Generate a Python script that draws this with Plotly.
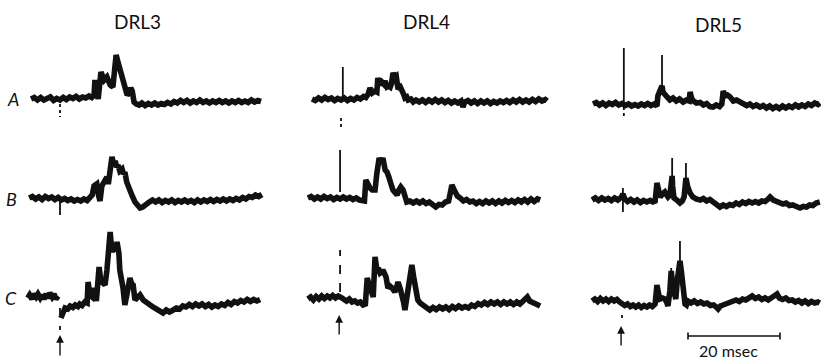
import plotly.graph_objects as go

# ---------------- data: (time ms after stimulus, amplitude, arbitrary units) ----------------
DRL3_A = [(-6.3,0),(-5.6,1.5),(-4.9,-1),(-4.2,1.5),(-3.5,-1),(-2.8,1),(-2.1,2),(-1.4,-1.5),(-0.7,0.5),(0.0,-1),
          (0.7,1.5),(1.4,-0.5),(2.1,2),(2.8,0.5),(3.5,2.5),(4.2,0),(4.9,2),(5.6,1),(6.3,3),(6.9,1.5),(7.4,4),
          (7.6,19),(8.0,5),(8.3,0),(8.9,27),(9.3,20),(9.6,19),(10.2,22),(10.6,15),(10.9,14),(11.5,12),(11.9,25),
          (12.2,44),(12.6,37),(13.0,30),(13.3,27),(13.6,18),(13.9,14),(14.3,8),(14.6,4),(15.0,6),(15.4,11),(15.7,8),
          (16.1,-3),(16.6,-5),(17.2,-6),(17.8,-4),(18.5,-6.5),(19.2,-4.5),(19.9,-6),(20.6,-4),(21.3,-6),(22.0,-4.5),
          (22.7,-5.5),(23.4,-3.5),(24.1,-5),(24.8,-2.5),(25.5,-4),(26.2,-1.5),(26.9,-3.5),(27.6,-1.5),(28.3,-4),
          (29.0,-2),(29.7,-3.5),(30.4,-1),(31.1,-3.5),(31.8,-2),(32.5,-4),(33.2,-2),(33.9,-3.5),(34.6,-1.5),(35.3,-3.5),
          (36.0,-2),(36.7,-4),(37.4,-2),(38.1,-3.5),(38.8,-1.5),(39.5,-3.5),(40.2,-2),(40.9,-3.5),(41.6,-1),(42.3,-3),
          (43.0,-1.5),(43.7,-2.5)]

DRL3_B = [(-6.7,0),(-6.0,1.5),(-5.3,-1),(-4.6,1),(-3.9,-1.5),(-3.2,1.5),(-2.5,-0.5),(-1.8,1),(-1.1,-1.5),(-0.4,0.5),
          (0.3,-2),(1.0,-0.5),(1.7,-2.5),(2.4,-1),(3.1,-3),(3.8,-1.5),(4.5,-3),(5.2,-1),(5.9,-2.5),(6.6,0),(7.0,3),
          (7.4,12),(8.0,14),(8.4,2),(8.7,-3),(9.1,12),(9.5,15),(9.8,19),(10.2,21),(10.5,14),(10.9,30),(11.3,41),
          (11.7,33),(12.0,37),(12.3,31),(12.6,33),(13.0,27),(13.5,29),(13.8,24),(14.1,26),(14.5,16),(14.8,12),
          (15.2,6),(15.7,2),(16.3,-4),(16.9,-8),(17.4,-10),(18.0,-9),(18.7,-6),(19.4,-4),(20.1,-2),(20.8,-4),
          (21.5,-2),(22.2,-4.5),(22.9,-2.5),(23.6,-4),(24.3,-2),(25.0,-4.5),(25.7,-2.5),(26.4,-4),(27.1,-2),
          (27.8,-4),(28.5,-2.5),(29.2,-4.5),(29.9,-2),(30.6,-4),(31.3,-2),(32.0,-3.5),(32.7,-1.5),(33.4,-3.5),
          (34.1,-1.5),(34.8,-3),(35.5,-1),(36.2,-3),(36.9,-1),(37.6,-2.5),(38.3,-0.5),(39.0,-2),(39.7,0.5),
          (40.4,-1),(41.1,1.5),(41.8,0.5),(42.5,3),(43.2,1.5),(43.9,3.5)]

DRL3_C_PRE = [(-7.0,0),(-6.6,3),(-6.1,-1),(-5.7,4),(-5.2,1),(-4.8,4),(-4.3,0),(-3.9,3),(-3.5,-1),(-3.0,4),
              (-2.6,0),(-2.2,5),(-1.7,1),(-1.3,4),(-0.9,-1),(-0.4,2)]
DRL3_C = [(0.2,-20),(0.6,-14),(1.1,-10),(1.7,-11),(2.2,-8),(2.8,-9.5),(3.3,-7),(3.9,-8.5),(4.3,-6),(4.8,-7.5),
          (5.4,-4),(5.9,-5),(6.1,16),(6.5,3),(7.0,1),(7.4,10),(7.9,-3),(8.5,31),(8.9,16),(9.4,15),(9.8,13),
          (10.2,28),(10.9,66),(11.3,46),(11.7,51),(12.1,47),(12.4,56),(12.8,45),(13.0,28),(13.7,10),(14.1,-7),
          (14.6,5),(15.2,20),(15.6,14),(15.9,13),(16.3,-2),(16.8,1),(17.4,3),(18.1,-2),(18.9,-4),(19.6,-7),
          (20.2,-9),(20.9,-11),(21.6,-13),(22.4,-15),(23.1,-12),(23.8,-14),(24.6,-12),(25.3,-10),(26.0,-11),
          (26.7,-8),(27.4,-9),(28.1,-6.5),(28.8,-8.5),(29.5,-6),(30.2,-8),(30.9,-6),(31.6,-8.5),(32.3,-6.5),
          (33.0,-9),(33.7,-7),(34.4,-8.5),(35.1,-6),(35.8,-7.5),(36.5,-4.5),(37.2,-6.5),(37.9,-3.5),(38.6,-5),
          (39.3,-2.5),(40.0,-4),(40.7,-1.5),(41.4,-3.5),(42.1,-1.5),(42.8,-3),(43.5,-1.5)]

DRL4_A = [(-6.3,0),(-5.6,-1.5),(-4.9,1),(-4.2,-1),(-3.5,1.5),(-2.8,-0.5),(-2.1,1),(-1.4,-1.5),(-0.7,0.5),(0.0,-1),
          (0.7,1),(1.4,-1.5),(2.1,0.5),(2.8,-1),(3.5,1.5),(4.2,0),(4.9,2.5),(5.4,1.5),(5.9,5),(6.3,11),(6.8,6),
          (7.4,8),(7.8,7),(8.0,21),(8.5,14),(8.9,17),(9.3,15),(9.6,18),(10.0,12),(10.4,13),(10.7,12),(11.0,16),
          (11.3,26),(11.7,22),(12.0,23),(12.4,10),(12.9,12),(13.3,9),(13.6,5),(13.9,1),(14.3,2),(14.6,-1),(15.2,0),
          (15.7,-3),(16.3,-1),(17.0,-3),(17.7,-1),(18.4,-3.5),(19.1,-1),(19.8,-3),(20.5,-0.5),(21.2,-3),(21.9,-1),
          (22.6,-3.5),(23.3,-1.5),(24.0,-4),(24.7,-2),(25.4,-4),(26.1,-2),(26.5,-8),(26.9,-3),(27.6,-1.5),(28.3,-4),
          (29.0,-2),(29.7,-4.5),(30.4,-2),(31.1,-4),(31.8,-2),(32.5,-4.5),(33.2,-2.5),(33.9,-4),(34.6,-2),(35.3,-3.5),
          (36.0,-1.5),(36.7,-3.5),(37.4,-1),(38.1,-3),(38.8,-0.5),(39.5,-3),(40.2,-1),(40.9,-3),(41.6,-0.5),
          (42.3,-2.5),(43.0,0),(43.7,-2),(44.4,-0.5),(44.8,-2)]

DRL4_B = [(-7.2,0),(-6.5,1.5),(-5.8,-1),(-5.1,1),(-4.4,-1),(-3.7,1.5),(-3.0,-0.5),(-2.3,1),(-1.6,-1.5),(-0.9,0.5),
          (-0.2,-1),(0.5,1),(1.2,-1),(1.9,0.5),(2.6,-1.5),(3.3,0),(4.0,-2),(4.7,-3),(5.1,-3),(5.4,18),(5.9,13),
          (6.3,10),(6.8,8),(7.4,8),(7.8,25),(8.3,40),(8.7,35),(9.1,40),(9.6,28),(10.0,26),(10.4,21),(10.7,18),
          (11.0,12),(11.3,8),(11.8,4),(12.2,3),(12.6,8),(13.0,11),(13.5,8),(13.9,0),(14.3,-4),(15.0,-3),(15.7,-5),
          (16.4,-3),(17.1,-5),(17.8,-3),(18.5,-5.5),(19.2,-4),(19.9,-7),(20.6,-9),(21.3,-6.5),(22.0,-7),(22.7,-4),
          (23.4,-3),(23.8,6),(24.1,13),(24.5,9),(24.8,6),(25.3,2),(25.9,0),(26.6,-3),(27.3,-1.5),(28.0,-4),(28.7,-3),
          (29.4,-5.5),(30.1,-3.5),(30.8,-5.5),(31.5,-3),(32.2,-5),(32.9,-3),(33.6,-5.5),(34.3,-3),(35.0,-5),
          (35.7,-2.5),(36.4,-4.5),(37.1,-2.5),(37.8,-4.5),(38.5,-2),(39.2,-4),(39.9,-1.5),(40.6,-4),(41.3,-1),
          (42.0,-3.5),(42.7,-1),(43.3,-2)]

DRL4_C = [(-7.2,0),(-6.6,2),(-6.0,-1),(-5.4,2.5),(-4.8,0),(-4.2,3),(-3.6,0.5),(-3.0,3),(-2.4,1),(-1.8,3.5),
          (-1.2,1),(-0.6,3),(0.0,1.5),(0.6,0),(1.2,-2),(1.8,0),(2.4,-3),(3.0,-2),(3.6,-4),(4.2,-3),(4.8,-6),
          (5.3,-5),(5.7,21),(6.0,16),(6.3,11),(6.7,6),(7.0,2),(7.4,42),(7.8,29),(8.1,31),(8.5,26),(8.8,27),
          (9.1,29),(9.5,25),(9.8,22),(10.2,11),(10.6,13),(11.1,11),(11.4,9),(11.7,7),(12.1,12),(12.4,17),(12.9,10),
          (13.3,4),(13.6,-3),(13.9,-11),(14.3,2),(14.6,11),(15.0,24),(15.4,34),(15.8,22),(16.1,12),(16.4,4),
          (16.7,-1),(17.2,-4),(17.8,-6),(18.5,-8),(19.3,-11),(20.0,-8.5),(20.7,-10.5),(21.4,-8),(22.1,-10),
          (22.8,-8),(23.5,-10.5),(24.2,-7.5),(24.9,-9.5),(25.6,-7),(26.3,-9),(27.0,-7.5),(27.7,-9),(28.4,-6),
          (29.1,-7.5),(29.8,-4.5),(30.5,-6),(31.2,-3.5),(31.9,-5.5),(32.6,-3),(33.3,-5),(34.0,-3),(34.7,-5.5),
          (35.4,-3),(36.1,-5),(36.8,-3),(37.5,-5.5),(38.2,-3),(38.9,-5),(39.6,-2),(40.1,1),(40.5,2),(41.0,-2),
          (41.7,-4),(42.4,-5),(43.3,-7)]

DRL5_A = [(-6.3,0),(-5.6,1.5),(-4.9,-1),(-4.2,1),(-3.5,-1.5),(-2.8,1),(-2.1,-0.5),(-1.4,1.5),(-0.7,-1),(0.0,0.5),
          (0.7,-1.5),(1.4,0),(2.1,-2),(2.8,-0.5),(3.5,-2),(4.2,0),(4.9,-1.5),(5.6,0.5),(6.3,-1.5),(7.0,0),(7.6,-2),
          (7.8,8),(8.3,14),(8.7,18),(8.9,12),(9.3,9),(9.8,7),(10.4,4),(11.1,6),(11.8,3),(12.5,5),
          (13.3,2),(14.0,4),(14.6,3),(14.8,12),(15.1,6),(15.5,3),(16.2,1),(17.0,1.5),(17.7,-1),(18.4,0.5),(19.1,-2.5),
          (19.8,-3),(20.5,-1),(21.2,-2.5),(21.7,0),(22.0,13),(22.4,8),(22.9,9),(23.5,7),(24.2,3),(24.9,4),(25.7,2),
          (26.4,0),(27.1,-1.5),(27.8,0),(28.5,-2.5),(29.2,-1),(30.0,-3),(30.7,-1.5),(31.4,-4),(32.1,-2),(32.8,-4.5),
          (33.5,-2.5),(34.2,-4.5),(34.9,-2),(35.6,-4),(36.3,-2),(37.0,-3.5),(37.7,-1),(38.4,-3),(39.1,-1),
          (39.8,-2.5),(40.5,0),(41.2,-1.5),(41.9,1),(42.6,-0.5),(43.0,1)]

DRL5_B = [(-6.5,0),(-5.8,2),(-5.1,-0.5),(-4.4,2),(-3.7,0),(-3.0,1.5),(-2.3,-0.5),(-1.6,2),(-0.9,0),(-0.2,2.5),
          (0.2,6),(0.6,1),(1.2,-1.5),(1.9,0.5),(2.6,-2),(3.3,0),(4.0,-2.5),(4.7,-0.5),(5.4,-2),(6.1,-0.5),(6.7,-2),
          (7.2,-1),(7.6,17),(8.0,8),(8.3,3),(8.8,6),(9.3,8),(9.7,5),(10.0,3),(10.4,5),(10.9,24),(11.0,14),
          (11.3,2),(11.9,0),(12.6,-3),(13.1,-1),(13.5,3),(13.9,22),(14.1,16),(14.3,13),(14.8,7),(15.4,3),
          (16.1,1),(17.0,0),(17.7,1.5),(18.4,-1),(19.1,0.5),(19.8,-2),(20.5,-4),(21.3,-7),(22.0,-5),(22.7,-6.5),
          (23.4,-4.5),(24.1,-5.5),(24.8,-3),(25.5,-4.5),(26.2,-2),(26.9,-3.5),(27.6,-1.5),(28.3,-3),(29.0,-1.5),
          (29.7,-3),(30.4,-1),(31.1,-1.5),(31.8,1),(32.2,3),(32.9,0),(33.6,-1.5),(34.3,-2.5),(35.0,-4),(35.7,-3),
          (36.4,-5.5),(37.1,-5),(37.8,-7),(38.7,-8),(39.4,-6.5),(40.1,-7),(40.8,-5),(41.5,-5.5),(42.2,-3),(43.0,-2)]

DRL5_C = [(-6.5,0),(-5.9,2),(-5.3,-0.5),(-4.7,2.5),(-4.1,0),(-3.5,2),(-2.9,-0.5),(-2.3,2),(-1.7,0),(-1.1,1.5),
          (-0.5,-1),(0.0,-3),(0.6,-4.5),(1.2,-3),(1.8,-5.5),(2.4,-4),(3.0,-6),(3.6,-4),(4.2,-6.5),(4.8,-4.5),
          (5.4,-6),(6.0,-4),(6.6,-5.5),(7.2,-3),(7.6,16),(8.0,6),(8.3,2),(8.8,3),(9.3,2),(9.7,-1),(10.0,-5),(10.4,10),
          (10.7,30),(11.1,13),(11.4,8),(11.7,2),(12.0,20),(12.3,34),(12.6,40),(12.9,30),(13.1,18),(13.4,5),
          (13.7,-3),(14.0,-4),(14.3,0),(15.0,-2),(15.7,0),(16.4,-2.5),(17.1,-1),(17.8,-3),(18.5,-2),(19.2,-4.5),
          (19.9,-4),(20.5,-6),(20.9,-8),(21.4,-5),(22.0,-4),(22.7,-2),(23.4,-1),(24.1,0),(24.8,1),(25.5,-0.5),
          (26.2,2),(26.9,1),(27.6,3),(28.3,5),(29.0,2.5),(29.7,4),(30.4,1.5),(31.1,3),(31.8,1),(32.5,3.5),(33.2,5),
          (33.7,7),(34.2,3),(34.9,1.5),(35.6,3),(36.3,0.5),(37.0,1),(37.7,-1),(38.4,0.5),(39.1,-2),(39.8,0),
          (40.5,-2.5),(41.2,-0.5),(41.9,-2),(42.6,-1),(43.0,-2)]

# stimulus artefacts and fast spikes drawn as thin strokes: (column, row, time ms, amp from, amp to, dash)
THIN_STROKES = [("DRL3","A",0.0,-5,-18,"dot"), ("DRL3","B",0.0,-3,-17,"solid"), ("DRL3","C",0.0,-10,-32,"dash"),
                ("DRL4","A",0.4,0,32,"solid"), ("DRL4","A",0.0,-19,-29,"dot"), ("DRL4","B",-0.2,6,48,"solid"),
                ("DRL4","C",-0.2,7,49,"dash"), ("DRL5","A",0.4,0,56,"solid"), ("DRL5","A",0.4,-3,-14,"dot"),
                ("DRL5","B",0.2,12,-12,"solid"), ("DRL5","C",0.0,-14,-20,"dot"),
                ("DRL5","A",8.7,15,49,"solid"), ("DRL5","B",10.9,20,42,"solid"), ("DRL5","B",13.9,18,37,"solid"),
                ("DRL5","C",12.6,36,60,"solid"), ("DRL5","C",10.7,26,33,"solid")]

COLUMNS = ["DRL3", "DRL4", "DRL5"]
ROWS = ["A", "B", "C"]
SCALE_BAR_MS = 20
SCALE_LABEL = "20 msec"

TRACES = {("DRL3","A"): [DRL3_A], ("DRL3","B"): [DRL3_B], ("DRL3","C"): [DRL3_C_PRE, DRL3_C],
          ("DRL4","A"): [DRL4_A], ("DRL4","B"): [DRL4_B], ("DRL4","C"): [DRL4_C],
          ("DRL5","A"): [DRL5_A], ("DRL5","B"): [DRL5_B], ("DRL5","C"): [DRL5_C]}

# ---------------- layout (page placement, in page pixels) ----------------
W, H = 821, 362
PX_PER_MS = 4.6
STIM_PX = {"DRL3": 60, "DRL4": 341, "DRL5": 622}
BASE_PX = {("DRL3","A"): 99, ("DRL3","B"): 198, ("DRL3","C"): 298,
           ("DRL4","A"): 99, ("DRL4","B"): 198, ("DRL4","C"): 299,
           ("DRL5","A"): 104, ("DRL5","B"): 200, ("DRL5","C"): 301}
TITLE_POS = {"DRL3": (137, 22), "DRL4": (426, 22), "DRL5": (718, 24)}
ROW_LABEL_POS = {"A": (13, 99), "B": (11, 199), "C": (11, 298)}
ARROWS = {"DRL3": (0, 335, 357), "DRL4": (-0.4, 315, 336), "DRL5": (-0.2, 326, 347)}
SCALE_PX = (688, 336)
SCALE_LABEL_PX = (728, 350)
FONT = "Lato, 'Open Sans', sans-serif"
INK = "#111111"


def xm(col, t):
    return STIM_PX[col] / PX_PER_MS + t


def ya(col, row, a):
    return a - BASE_PX[(col, row)]


def paper(px, py):
    return px / W, 1 - py / H


fig = go.Figure()
for (col, row), segs in TRACES.items():
    for seg in segs:
        fig.add_trace(go.Scatter(x=[xm(col, t) for t, _ in seg], y=[ya(col, row, a) for _, a in seg],
                                 mode="lines", line=dict(color=INK, width=5.6), hoverinfo="skip",
                                 showlegend=False))

for col, row, t, a0, a1, dash in THIN_STROKES:
    fig.add_trace(go.Scatter(x=[xm(col, t), xm(col, t)], y=[ya(col, row, a0), ya(col, row, a1)],
                             mode="lines", line=dict(color=INK, width=1.8, dash=dash),
                             hoverinfo="skip", showlegend=False))

# scale bar
sb_x0 = SCALE_PX[0] / PX_PER_MS
sb_y = -SCALE_PX[1]
fig.add_trace(go.Scatter(x=[sb_x0, sb_x0 + SCALE_BAR_MS], y=[sb_y, sb_y], mode="lines",
                         line=dict(color=INK, width=1.6), hoverinfo="skip", showlegend=False))
for xx in (sb_x0, sb_x0 + SCALE_BAR_MS):
    fig.add_trace(go.Scatter(x=[xx, xx], y=[sb_y - 3.5, sb_y + 3.5], mode="lines",
                             line=dict(color=INK, width=1.6), hoverinfo="skip", showlegend=False))

ann = []
for col in COLUMNS:
    px, py = paper(*TITLE_POS[col])
    ann.append(dict(x=px, y=py, xref="paper", yref="paper", text=col, showarrow=False,
                    font=dict(family=FONT, size=19, color=INK), xanchor="center", yanchor="middle"))
    dt, ytop, ybot = ARROWS[col]
    ann.append(dict(x=xm(col, dt), y=-ytop, ax=xm(col, dt), ay=-ybot, xref="x", yref="y", axref="x",
                    ayref="y", text="", showarrow=True, arrowhead=2, arrowsize=1.1, arrowwidth=1.4,
                    arrowcolor=INK))
for row in ROWS:
    px, py = paper(*ROW_LABEL_POS[row])
    ann.append(dict(x=px, y=py, xref="paper", yref="paper", text="<i>%s</i>" % row,
                    showarrow=False, font=dict(family=FONT, size=18, color=INK),
                    xanchor="center", yanchor="middle"))
px, py = paper(*SCALE_LABEL_PX)
ann.append(dict(x=px, y=py, xref="paper", yref="paper", text=SCALE_LABEL, showarrow=False,
                font=dict(family=FONT, size=16, color=INK), xanchor="center", yanchor="middle"))

fig.update_layout(width=W, height=H, margin=dict(l=0, r=0, t=0, b=0), paper_bgcolor="white",
                  plot_bgcolor="white", annotations=ann,
                  xaxis=dict(range=[0, W / PX_PER_MS], visible=False, fixedrange=True),
                  yaxis=dict(range=[-H, 0], visible=False, fixedrange=True))
fig.write_html("out.html", config={"displayModeBar": False, "staticPlot": True},
               post_script="document.body.style.margin='0px';document.body.style.overflow='hidden';")
